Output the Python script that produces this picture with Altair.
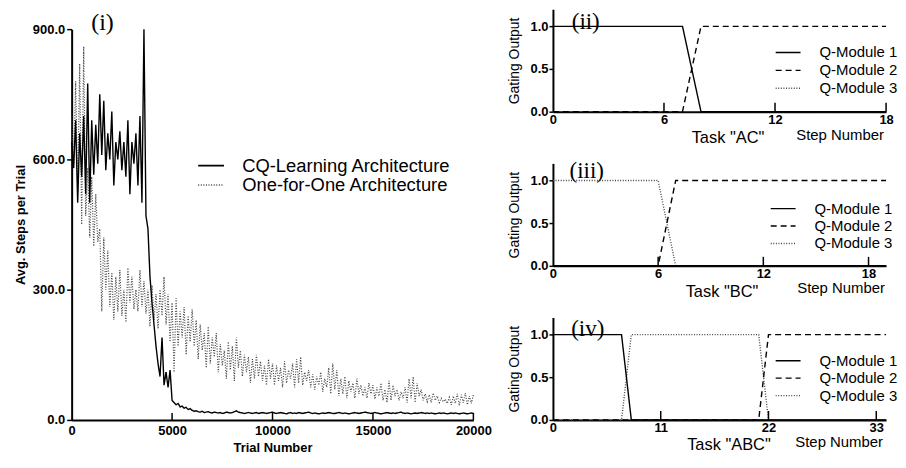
import altair as alt
import pandas as pd

SANS = "Liberation Sans"
SERIF = "Liberation Serif"

# ---------------- data: panel (i) ----------------
trials = list(range(0, 20001, 100))
cq_steps = [
    640, 580, 690, 500, 660, 560, 700, 520, 775, 500,
    690, 565, 680, 590, 750, 610, 735, 575, 660, 600,
    710, 540, 640, 600, 665, 575, 640, 560, 690, 520,
    640, 590, 660, 540, 700, 500, 900, 470, 440, 330,
    270, 220, 170, 130, 100, 190, 80, 110, 75, 115,
    45, 40, 35, 38, 30, 32, 27, 29, 24, 26,
    22, 20, 21, 19, 18, 20, 17, 18, 19, 17,
    16, 18, 17, 16, 17, 15, 16, 18, 17, 16,
    17, 19, 21, 18, 17, 16, 15, 16, 17, 16,
    15, 16, 17, 15, 16, 17, 16, 15, 16, 17,
    18, 16, 15, 16, 17, 16, 15, 14, 16, 17,
    15, 16, 15, 17, 16, 15, 16, 17, 18, 16,
    15, 16, 15, 14, 15, 16, 15, 16, 17, 16,
    15, 15, 16, 17, 16, 15, 16, 15, 14, 15,
    16, 17, 16, 15, 16, 17, 18, 17, 16, 15,
    16, 17, 16, 15, 14, 15, 16, 17, 16, 15,
    16, 15, 16, 17, 18, 16, 15, 16, 15, 14,
    15, 16, 15, 16, 17, 16, 15, 16, 15, 16,
    15, 14, 15, 16, 15, 16, 15, 14, 15, 16,
    15, 16, 15, 14, 15, 16, 15, 14, 15, 16,
    15,
]
o4o_steps = [
    700, 590, 780, 520, 820, 450, 860, 470, 580, 420,
    560, 400, 520, 410, 440, 250, 420, 300, 390, 260,
    340, 230, 330, 250, 345, 240, 300, 225, 350, 270,
    330, 255, 300, 250, 345, 260, 320, 245, 300, 215,
    310, 230, 290, 210, 300, 240, 330, 220, 290, 180,
    270, 110, 280, 170, 250, 190, 260, 150, 240, 180,
    255, 170, 230, 140, 220, 160, 200, 120, 215, 130,
    190, 145, 200, 110, 175, 125, 160, 95, 180, 115,
    170, 90, 190, 120, 160, 100, 150, 110, 145, 85,
    140, 95, 150, 100, 135, 90, 125, 80, 140, 95,
    130, 80, 125, 90, 120, 75, 135, 85, 115, 95,
    130, 75, 140, 85, 145, 80, 110, 90, 115, 75,
    105, 70, 100, 80, 110, 65, 95, 75, 120, 60,
    130, 70, 115, 55, 95, 60, 100, 50, 90, 65,
    85, 50, 95, 60, 80, 55, 75, 50, 85, 60,
    80, 48, 75, 55, 85, 45, 70, 40, 90, 45,
    80, 55, 70, 45, 65, 50, 75, 40, 95, 50,
    100, 40, 85, 55, 70, 45, 60, 42, 58, 40,
    62, 45, 55, 40, 50, 42, 48, 38, 52, 35,
    55, 38, 60, 33, 58, 40, 62, 35, 55, 38,
    58,
]
series_names = ["CQ-Learning Architecture", "One-for-One Architecture"]
left_yticks = [0, 300, 600, 900]
left_xticks = [0, 5000, 10000, 15000, 20000]
left_inward_ticks = [5000, 10000, 15000, 20000]
panel_labels = ["(i)", "(ii)", "(iii)", "(iv)"]

# ---------------- data: panels (ii)-(iv) ----------------
modules = ["Q-Module 1", "Q-Module 2", "Q-Module 3"]
ac_steps = [0, 7, 8, 18]
ac_m1 = [1, 1, 0, 0]
ac_m2 = [0, 0, 1, 1]
ac_m3 = [0, 0, 0, 0]
bc_steps = [0, 6, 7, 19]
bc_m1 = [0, 0, 0, 0]
bc_m2 = [0, 0, 1, 1]
bc_m3 = [1, 1, 0, 0]
abc_steps = [0, 7, 8, 21, 22, 34]
abc_m1 = [1, 1, 0, 0, 0, 0]
abc_m2 = [0, 0, 0, 0, 1, 1]
abc_m3 = [0, 0, 1, 1, 0, 0]
task_names = ['Task "AC"', 'Task "BC"', 'Task "ABC"']

# ---------------- panel (i) ----------------
LW, LH = 404, 393
df_left = pd.DataFrame({
    "trial": trials * 2,
    "steps": cq_steps + o4o_steps,
    "series": [series_names[0]] * len(trials) + [series_names[1]] * len(trials),
})

l_xaxis = alt.Axis(values=left_xticks, format="d", ticks=False, tickSize=0,
                   labelPadding=5, labelFontSize=13, labelFontWeight="bold",
                   title="Trial Number", titleFontSize=13, titleFontWeight="bold",
                   titlePadding=4, domainWidth=2, labelFlush=False, grid=False)
l_xscale = alt.Scale(domain=[0, 20000], nice=False)
lx = alt.X("trial:Q", scale=l_xscale, axis=l_xaxis)
ly = alt.Y("steps:Q", scale=alt.Scale(domain=[0, 900], nice=False),
           axis=alt.Axis(values=left_yticks, format=".1f", tickSize=5, tickWidth=1.5,
                         labelPadding=2, labelFontSize=13, labelFontWeight="bold",
                         title="Avg. Steps per Trial", titleFontSize=13,
                         titleFontWeight="bold", titlePadding=5, domainWidth=2,
                         grid=False))
leg_left = alt.Legend(title=None, orient="none", legendX=131, legendY=148,
                      direction="vertical", symbolType="M-2.6,0H2.6", symbolSize=100,
                      symbolStrokeWidth=1.6, labelFontSize=18.5, labelOffset=22,
                      labelLimit=400, rowPadding=0.5, padding=0,
                      labelFont=SANS, labelColor="black")
lcolor = alt.Color("series:N", scale=alt.Scale(domain=series_names, range=["black", "#444444"]),
                   legend=leg_left)
ldash = alt.StrokeDash("series:N", scale=alt.Scale(domain=series_names, range=[[1, 0], [1, 1.6]]),
                       legend=leg_left)

o4o_layer = alt.Chart(df_left).transform_filter(
    alt.datum.series == series_names[1]
).mark_line(strokeWidth=1.2).encode(x=lx, y=ly, color=lcolor, strokeDash=ldash)
cq_layer = alt.Chart(df_left).transform_filter(
    alt.datum.series == series_names[0]
).mark_line(strokeWidth=1.4).encode(x=lx, y=ly, color=lcolor, strokeDash=ldash)

ltick = alt.Chart(pd.DataFrame({"trial": left_inward_ticks})).mark_rule(
    color="black", strokeWidth=1.5).encode(
    x=alt.X("trial:Q", scale=l_xscale, axis=l_xaxis), y=alt.value(LH), y2=alt.value(LH - 7))

left = alt.layer(o4o_layer, cq_layer, ltick).properties(width=LW, height=LH)

TOPGAP = 20
left_top = alt.Chart(pd.DataFrame({"t": [panel_labels[0]]})).mark_text(
    font=SERIF, fontSize=24, color="black", align="center", baseline="middle").encode(
    text="t:N", x=alt.value(31), y=alt.value(TOPGAP - 6)).properties(width=LW, height=TOPGAP)

left_col = alt.vconcat(left_top, left, spacing=0, bounds="flush")

# ---------------- panels (ii)-(iv) ----------------
RW, RH = 335, 103


def gate_panel(steps, m1, m2, m3, xmax, xlabels, inward, roman, task,
               roman_xy, leg_xy, row_pad, task_xy, step_xy):
    n = len(steps)
    df = pd.DataFrame({
        "step": steps * 3,
        "value": m3 + m2 + m1,
        "module": [modules[2]] * n + [modules[1]] * n + [modules[0]] * n,
    })
    xscale = alt.Scale(domain=[0, xmax], nice=False, zero=False)
    xaxis = alt.Axis(values=xlabels, format="d", ticks=False, tickSize=0,
                     labelPadding=2, labelFontSize=13, labelFontWeight="bold",
                     title=None, domainWidth=2, labelFlush=False, grid=False)
    x = alt.X("step:Q", scale=xscale, axis=xaxis)
    y = alt.Y("value:Q", scale=alt.Scale(domain=[0, 1.2], nice=False),
              axis=alt.Axis(values=[0, 0.5, 1.0], format=".1f", tickSize=4, tickWidth=1.5,
                            labelPadding=1, labelFontSize=13, labelFontWeight="bold",
                            title="Gating Output", titleFontSize=14, titleFontWeight="normal",
                            titlePadding=9, domainWidth=2, grid=False))
    leg = alt.Legend(title=None, orient="none", legendX=leg_xy[0], legendY=leg_xy[1],
                     direction="vertical", symbolType="M-2.5,0H2.5", symbolSize=100,
                     symbolStrokeWidth=1.4, labelFontSize=15, labelOffset=24,
                     labelLimit=300, rowPadding=row_pad, padding=0,
                     labelFont=SANS, labelColor="black")
    color = alt.Color("module:N", scale=alt.Scale(domain=modules,
                                                  range=["black", "black", "#444444"]),
                      legend=leg)
    dash = alt.StrokeDash("module:N", scale=alt.Scale(domain=modules,
                                                      range=[[1, 0], [6, 4], [1, 1.6]]),
                          legend=leg)
    lines = alt.Chart(df).mark_line(strokeWidth=1.4).encode(
        x=x, y=y, color=color, strokeDash=dash,
        order=alt.Order("step:Q"))
    ticks = alt.Chart(pd.DataFrame({"step": inward})).mark_rule(
        color="black", strokeWidth=1.5).encode(
        x=alt.X("step:Q", scale=xscale, axis=xaxis), y=alt.value(RH), y2=alt.value(RH - 9))
    rl = alt.Chart(pd.DataFrame({"t": [roman]})).mark_text(
        font=SERIF, fontSize=23, color="black", align="center", baseline="middle").encode(
        text="t:N", x=alt.value(roman_xy[0]), y=alt.value(roman_xy[1]))
    tk = alt.Chart(pd.DataFrame({"t": [task]})).mark_text(
        font=SANS, fontSize=16.5, color="black", align="center", baseline="middle").encode(
        text="t:N", x=alt.value(task_xy[0]), y=alt.value(RH + task_xy[1]))
    sn = alt.Chart(pd.DataFrame({"t": ["Step Number"]})).mark_text(
        font=SANS, fontSize=15, color="black", align="right", baseline="middle").encode(
        text="t:N", x=alt.value(step_xy[0]), y=alt.value(RH + step_xy[1]))
    return alt.layer(lines, ticks, rl, tk, sn).properties(width=RW, height=RH)


p2 = gate_panel(ac_steps, ac_m1, ac_m2, ac_m3, 18, [0, 6, 12, 18], [6, 12, 18],
                panel_labels[1], task_names[0], (33, 13), (229, 36), 2.0, (176, 26), (333, 23))
p3 = gate_panel(bc_steps, bc_m1, bc_m2, bc_m3, 19, [0, 6, 12, 18], [6, 12, 18],
                panel_labels[2], task_names[1], (34, 8), (224, 38), 1.5, (170, 26), (334, 22))
p4 = gate_panel(abc_steps, abc_m1, abc_m2, abc_m3, 34, [0, 11, 22, 33], [11, 22, 33],
                panel_labels[3], task_names[2], (35, 12), (229, 36), 1.5, (177, 25), (332, 22))

right = alt.vconcat(p2, p3, p4, spacing=52, bounds="flush").resolve_scale(
    color="independent", strokeDash="independent").resolve_legend(
    color="independent", strokeDash="independent")

chart = alt.hconcat(left_col, right, spacing=14).resolve_scale(
    color="independent", strokeDash="independent").resolve_legend(
    color="independent", strokeDash="independent").properties(
    padding={"left": 6, "top": 0, "right": 0, "bottom": 0},
    background="white",
).configure_view(stroke=None).configure_axis(
    labelFont=SANS, titleFont=SANS, labelColor="black", titleColor="black",
    domainColor="black", tickColor="black",
)

chart.save("out.html", embed_options={"renderer": "svg", "actions": False})
